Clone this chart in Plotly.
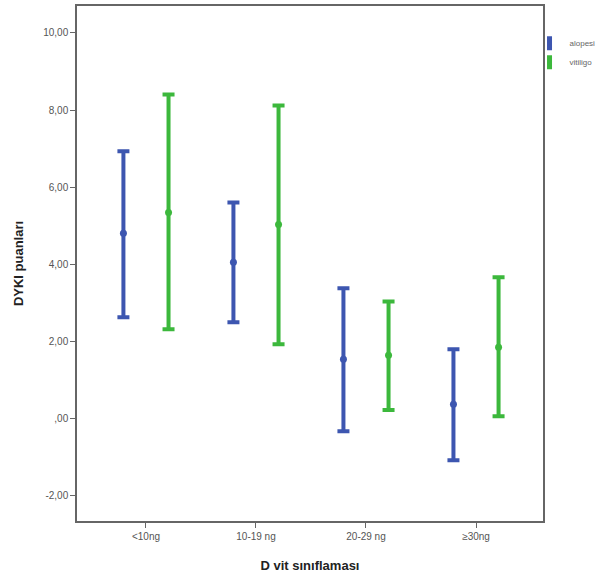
import plotly.graph_objects as go

categories = ["<10ng", "10-19 ng", "20-29 ng", "≥30ng"]
series_names = ["alopesi", "vitiligo"]
alopesi_mean = [4.80, 4.05, 1.53, 0.36]
alopesi_low = [2.62, 2.49, -0.34, -1.09]
alopesi_high = [6.93, 5.60, 3.37, 1.79]
vitiligo_mean = [5.34, 5.03, 1.63, 1.84]
vitiligo_low = [2.31, 1.92, 0.21, 0.05]
vitiligo_high = [8.40, 8.12, 3.03, 3.66]
ytick_vals = [-2, 0, 2, 4, 6, 8, 10]
ytick_text = ["-2,00", ",00", "2,00", "4,00", "6,00", "8,00", "10,00"]

colors = ["#3d56b0", "#3cb83c"]

fig = go.Figure()
for name, m, lo, hi, c in [
    (series_names[0], alopesi_mean, alopesi_low, alopesi_high, colors[0]),
    (series_names[1], vitiligo_mean, vitiligo_low, vitiligo_high, colors[1]),
]:
    fig.add_trace(go.Scatter(
        x=categories, y=m, mode="markers", name=name, showlegend=False,
        offsetgroup=name,
        marker=dict(color=c, size=7),
        error_y=dict(type="data", symmetric=False,
                     array=[h - v for h, v in zip(hi, m)],
                     arrayminus=[v - l for v, l in zip(m, lo)],
                     color=c, thickness=4, width=6),
    ))
    fig.add_trace(go.Scatter(
        x=[None], y=[None], mode="markers", name=name, showlegend=True,
        offsetgroup=name,
        marker=dict(symbol="line-ns-open", size=10, color=c,
                    line=dict(color=c, width=5)),
    ))

fig.update_layout(
    width=599, height=577,
    margin=dict(l=77, r=56, t=6, b=56, autoexpand=False),
    plot_bgcolor="white", paper_bgcolor="white",
    scattermode="group", scattergap=0.18,
    font=dict(family="Liberation Sans, Arial", size=10, color="#555"),
    legend=dict(xref="container", x=0.884, xanchor="left",
                yref="container", y=0.95, yanchor="top",
                font=dict(size=8, color="#666"), itemwidth=30,
                tracegroupgap=0, bgcolor="rgba(0,0,0,0)"),
    xaxis=dict(range=[-0.627, 3.609], showline=True, mirror=True,
               linecolor="#666", linewidth=1.5, ticks="outside", ticklen=5,
               tickcolor="#666", showgrid=False, zeroline=False, automargin=False,
               title=dict(text="<b>D vit sınıflaması</b>", standoff=20,
                          font=dict(size=13, color="#222"))),
    yaxis=dict(range=[-2.67, 10.70], showline=True, mirror=True,
               linecolor="#666", linewidth=1.5, ticks="outside", ticklen=5,
               tickcolor="#666", showgrid=False, zeroline=False, automargin=False,
               tickvals=ytick_vals, ticktext=ytick_text,
               title=dict(text="<b>DYKI puanları</b>", standoff=17,
                          font=dict(size=13, color="#222"))),
)

fig.write_html("out.html", config={"displayModeBar": False},
               post_script="document.body.style.margin='0';")
